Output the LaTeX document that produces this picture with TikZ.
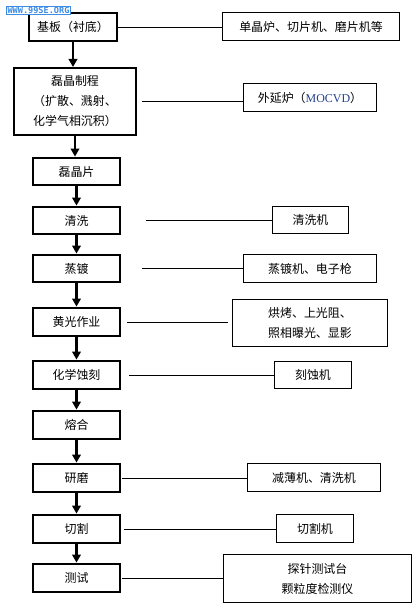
\documentclass[tikz,border=0pt]{standalone}
\usepackage{fontspec}
\setmainfont{Noto Sans CJK SC}
\newfontfamily\mocfont{Liberation Serif}
\newfontfamily\markfont{DejaVu Sans Mono}
\usepackage{tikz}
\usetikzlibrary{arrows.meta}
\usepackage{xcolor}
\definecolor{mocblue}{HTML}{23408E}
\definecolor{markblue}{HTML}{3C8CE6}

\begin{document}
\begin{tikzpicture}[x=1bp,y=-1bp,
  stage/.style={draw,line width=2.4bp,minimum width=86.6bp,minimum height=27.4bp,inner sep=0pt,align=center,font=\fontsize{12}{20}\selectfont},
  tool/.style={draw,line width=0.8bp,inner sep=0pt,align=center,font=\fontsize{12}{20}\selectfont},
  flow/.style={-{Triangle[width=8.5bp,length=8bp]},line width=2.6bp},
  link/.style={line width=0.8bp}]
\useasboundingbox (0,0) rectangle (413,606);
% process steps
\node[stage,minimum width=87.6bp,minimum height=27.6bp] (jiban) at (73,27) {基板（衬底）};
\node[stage,minimum width=121.6bp,minimum height=66.6bp] (zhicheng) at (75,101.5) {磊晶制程\\（扩散、溅射、\\化学气相沉积）};
\node[stage] (pian) at (76.5,171.5) {磊晶片};
\node[stage] (qingxi) at (76.5,220.5) {清洗};
\node[stage] (zhengdu) at (76.5,268.5) {蒸镀};
\node[stage,minimum height=28.4bp] (huangguang) at (76.5,322) {黄光作业};
\node[stage,minimum height=28.4bp] (shike) at (76.5,375) {化学蚀刻};
\node[stage,minimum height=28.4bp] (ronghe) at (76.5,425) {熔合};
\node[stage,minimum height=28.4bp] (yanmo) at (76.5,478) {研磨};
\node[stage,minimum height=28.4bp] (qiege) at (76.5,529) {切割};
\node[stage,minimum height=28.4bp] (ceshi) at (76.5,578) {测试};
% equipment
\node[tool,minimum width=177.2bp,minimum height=28.2bp] (t1) at (311,26.5) {单晶炉、切片机、磨片机等};
\node[tool,minimum width=133.2bp,minimum height=28.2bp] (t2) at (310,97.5) {外延炉（{\mocfont\color{mocblue}MOCVD}）};
\node[tool,minimum width=76.2bp,minimum height=27.2bp] (t3) at (310.5,220) {清洗机};
\node[tool,minimum width=133.2bp,minimum height=28.2bp] (t4) at (310,268.5) {蒸镀机、电子枪};
\node[tool,minimum width=155.2bp,minimum height=47.2bp] (t5) at (310,323) {烘烤、上光阻、\\照相曝光、显影};
\node[tool,minimum width=77.2bp,minimum height=27.2bp] (t6) at (313,375) {刻蚀机};
\node[tool,minimum width=133.2bp,minimum height=28.2bp] (t7) at (314,477.5) {减薄机、清洗机};
\node[tool,minimum width=77.2bp,minimum height=28.2bp] (t8) at (315,528.5) {切割机};
\node[tool,minimum width=188.2bp,minimum height=48.2bp] (t9) at (317.5,578.5) {探针测试台\\颗粒度检测仪};
% arrows
\foreach \a/\b in {jiban/zhicheng,zhicheng/pian,pian/qingxi,qingxi/zhengdu,zhengdu/huangguang,huangguang/shike,shike/ronghe,ronghe/yanmo,yanmo/qiege,qiege/ceshi}
  \draw[flow] (\a.south) -- (\a.south |- \b.north);
% links
\foreach \a/\b/\s/\e in {jiban/t1/0/0,zhicheng/t2/5/0,qingxi/t3/25/0,zhengdu/t4/21/0,huangguang/t5/6/4,shike/t6/8/0,yanmo/t7/1/0,qiege/t8/3/0,ceshi/t9/1/0}
  \draw[link,shorten <=\s bp,shorten >=\e bp] (\a.east) -- (\a.east -| \b.west);
% watermark
\node[draw=markblue,fill=white,line width=0.8bp,inner xsep=1bp,inner ysep=0.5bp,text=markblue,font=\markfont\bfseries\fontsize{8.6}{9}\selectfont] (mark) at (38.5,10.5) {WWW.99SE.ORG};
\end{tikzpicture}
\end{document}
